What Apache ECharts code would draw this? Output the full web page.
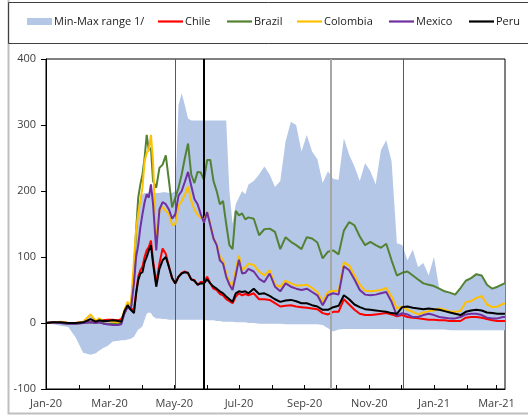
<!DOCTYPE html>
<html>
<head>
<meta charset="utf-8">
<script src="https://cdn.jsdelivr.net/npm/echarts@6/dist/echarts.min.js"></script>
<style>
  html, body { margin: 0; padding: 0; background: #ffffff; }
  #chart { width: 528px; height: 416px; }
</style>
</head>
<body>
<div id="chart"></div>
<script>
// Observation dates (shared by every series)
const dates = [
  '2020-01-01','2020-01-08','2020-01-15','2020-01-22','2020-01-29','2020-02-05','2020-02-12','2020-02-17','2020-02-20','2020-02-24','2020-02-28','2020-03-04','2020-03-09','2020-03-12',
  '2020-03-15','2020-03-18','2020-03-21','2020-03-24','2020-03-26','2020-03-28','2020-03-30','2020-04-01','2020-04-03','2020-04-05','2020-04-07','2020-04-09','2020-04-11','2020-04-14','2020-04-17','2020-04-20','2020-04-23','2020-04-26','2020-04-29','2020-05-02','2020-05-05','2020-05-08','2020-05-11','2020-05-14','2020-05-17','2020-05-20','2020-05-23','2020-05-26','2020-05-29','2020-06-01','2020-06-04','2020-06-07','2020-06-10','2020-06-13','2020-06-16','2020-06-19','2020-06-22','2020-06-25','2020-06-28','2020-07-01','2020-07-04','2020-07-07','2020-07-10',
  '2020-07-15','2020-07-20','2020-07-25','2020-07-30','2020-08-04','2020-08-09','2020-08-14','2020-08-19','2020-08-24','2020-08-29','2020-09-03','2020-09-08','2020-09-13','2020-09-18','2020-09-23','2020-09-28','2020-10-03','2020-10-08','2020-10-13','2020-10-18','2020-10-23','2020-10-28','2020-11-02','2020-11-07','2020-11-12','2020-11-17','2020-11-22','2020-11-27','2020-12-02','2020-12-07','2020-12-12','2020-12-17','2020-12-22','2020-12-27','2021-01-01','2021-01-06','2021-01-11','2021-01-16','2021-01-21','2021-01-26','2021-01-31','2021-02-05','2021-02-10','2021-02-15','2021-02-20','2021-02-25','2021-03-02','2021-03-07','2021-03-09'
];

// Min-Max range of the comparison group
const rangeLow = [
  -1,-2,-4,-6,-22,-45,-48,-46,-42,-38,-35,-28,-27,-26,
  -26,-25,-24,-21,-15,-10,-8,-5,5,14,16,15,10,7,7,6,6,5,5,5,5,5,5,5,5,5,5,5,5,4,4,4,3,3,2,2,2,2,1,1,1,1,0,
  0,-1,-1,-1,-1,-1,-2,-2,-2,-2,-2,-2,-2,-3,-8,-13,-10,-9,-9,-9,-9,-9,-9,-9,-9,-9,-9,-9,-10,-10,-10,-10,-10,-10,-10,-10,-10,-11,-11,-11,-11,-11,-11,-11,-11,-11,-11,-11,-11
];
const rangeHigh = [
  1,2,2,1,1,3,14,4,8,5,6,6,5,7,
  22,33,27,95,141,170,190,195,197,197,198,198,198,197,197,198,198,197,197,200,330,348,330,310,307,307,307,307,307,307,307,307,307,307,307,307,200,150,180,190,200,195,210,
  215,225,237,225,206,215,275,305,300,260,285,260,248,212,230,218,217,280,255,237,215,242,230,210,262,277,245,121,118,95,111,85,91,72,100,52,48,46,43,53,64,68,74,72,58,52,55,59,60
];

const chile = [
  0,1,1,0,0,1,2,2,3,4,5,5,4,6,
  15,25,22,20,45,70,80,85,100,110,115,125,95,60,90,113,105,85,68,60,70,76,78,75,66,65,58,62,62,70,60,52,50,44,42,36,33,30,40,45,42,44,42,
  45,36,36,35,30,25,26,27,25,24,23,22,21,15,13,17,17,36,28,20,14,12,12,13,14,15,13,10,12,9,8,7,6,5,5,4,4,3,3,3,8,9,9,8,6,4,3,3,3
];
const brazil = [
  0,1,0,-1,-1,0,1,0,1,0,-2,-1,-1,0,
  15,25,20,80,140,190,210,225,250,285,262,265,215,205,235,240,254,215,175,190,205,225,250,272,225,212,229,228,217,247,247,215,200,180,185,150,118,112,170,163,166,157,160,
  158,133,142,143,138,112,130,123,118,112,130,128,122,98,108,110,104,140,153,148,131,118,123,118,114,120,95,72,76,78,72,66,60,58,56,52,48,46,43,53,64,68,74,72,58,52,55,59,60
];
const colombia = [
  0,1,2,0,0,2,13,3,7,3,3,2,1,2,
  20,32,25,95,141,166,185,205,245,258,262,285,245,115,170,176,170,165,148,150,178,185,194,207,185,172,164,160,156,168,150,128,120,100,95,75,62,55,80,102,80,84,90,
  88,78,72,80,58,55,64,60,57,57,58,53,47,32,47,49,48,92,87,72,58,49,48,49,50,53,40,22,25,20,17,13,16,18,19,22,20,17,17,18,32,33,38,41,28,24,25,29,30
];
const mexico = [
  0,1,0,-1,-1,0,1,0,1,-1,-2,-3,-3,-2,
  15,25,20,60,100,118,145,165,183,195,190,210,180,110,172,183,180,172,158,165,193,200,214,229,208,188,180,165,152,168,148,128,118,95,90,70,58,50,72,96,75,76,82,
  78,67,62,75,55,48,60,55,52,50,52,47,42,27,42,45,43,86,80,66,50,43,42,43,45,47,32,11,15,13,9,9,12,14,12,9,8,7,7,9,13,14,14,12,8,7,7,9,9
];
const peru = [
  0,1,1,0,0,1,6,2,4,3,3,4,3,2,
  18,27,20,15,45,65,75,77,92,100,110,118,90,55,82,95,100,85,68,60,70,75,77,76,66,64,58,60,60,66,60,55,52,48,45,40,36,32,45,48,47,48,45,
  52,44,45,41,36,32,34,35,33,30,30,27,25,20,20,24,26,42,36,28,24,21,20,19,18,17,15,14,24,25,23,22,21,22,21,20,18,16,14,12,17,19,20,19,16,15,14,14,14
];

// Event markers (vertical rules)
const eventDates = ['2020-05-02', '2020-05-29', '2020-09-26', '2020-12-03'];

// Axis labels
const monthNames = ['Jan','Feb','Mar','Apr','May','Jun','Jul','Aug','Sep','Oct','Nov','Dec'];
const yTicks = { min: -100, max: 400, step: 100 };

// Legend entries
const legendNames = ['Min-Max range 1/', 'Chile', 'Brazil', 'Colombia', 'Mexico', 'Peru'];

const FONT = "'Open Sans', sans-serif";
const DAY = 24 * 3600 * 1000;

const pairs = arr => dates.map((d, i) => [d, arr[i]]);
const bandWidth = rangeHigh.map((v, i) => v - rangeLow[i]);

const eventStyles = [
  { color: '#595959', width: 1, type: 'solid' },
  { color: '#000000', width: 2, type: 'solid' },
  { color: '#a6a6a6', width: 2, type: 'solid' },
  { color: '#595959', width: 1, type: 'solid' }
];

// left edge of each legend icon
const legendLeft = [27, 158, 227, 297, 389, 469];
const LINE_ICON = 'path://M0,0H25V2.2H0Z';

function countryLine(name, values, color, z) {
  return {
    name: name,
    type: 'line',
    data: pairs(values),
    symbol: 'none',
    showSymbol: false,
    lineStyle: { width: 2, color: color },
    itemStyle: { color: color },
    z: z,
    silent: true
  };
}

const chart = echarts.init(document.getElementById('chart'), null, { renderer: 'canvas' });

const peruSeries = countryLine('Peru', peru, '#000000', 8);
peruSeries.markLine = {
  symbol: 'none',
  silent: true,
  animation: false,
  label: { show: false },
  data: eventDates.map((d, i) => ({ xAxis: d, lineStyle: eventStyles[i] }))
};

const legends = legendNames.map((name, i) => ({
  left: legendLeft[i],
  top: 16,
  padding: 0,
  itemWidth: 25,
  itemHeight: 7,
  selectedMode: false,
  symbolKeepAspect: true,
  textStyle: { fontSize: 11, color: '#1a1a1a', fontFamily: FONT, padding: [0, 0, 0, -3] },
  data: [{ name: name, icon: i === 0 ? 'rect' : LINE_ICON }]
}));

chart.setOption({
  animation: false,
  backgroundColor: '#ffffff',
  textStyle: { fontFamily: FONT },
  graphic: [
    {
      type: 'rect', silent: true, z: 0,
      shape: { x: 8.5, y: -5, width: 540, height: 418.5 },
      style: { fill: 'none', stroke: '#bfbfbf', lineWidth: 2 }
    },
    {
      type: 'rect', silent: true, z: 0,
      shape: { x: 8.5, y: 2.5, width: 540, height: 41 },
      style: { fill: 'none', stroke: '#404040', lineWidth: 1 }
    }
  ],
  legend: legends,
  grid: {
    left: 46, right: 23, top: 59, bottom: 27,
    show: true, borderColor: '#000000', borderWidth: 1,
    backgroundColor: 'transparent'
  },
  xAxis: {
    type: 'time',
    min: new Date(2020, 0, 1).getTime(),
    max: new Date(2021, 2, 9).getTime(),
    splitNumber: 14,
    minInterval: 28 * DAY,
    maxInterval: 31 * DAY,
    axisLine: { show: true, onZero: false, lineStyle: { color: '#000000', width: 1 } },
    axisTick: { show: true, inside: true, length: 4, lineStyle: { color: '#000000' } },
    axisLabel: {
      fontSize: 11, color: '#404040', fontFamily: FONT, margin: 9,
      hideOverlap: false,
      formatter: function (val) {
        const d = new Date(val);
        const m = d.getMonth();
        if (d.getDate() !== 1 || m % 2 !== 0) return '';
        return monthNames[m] + '-' + String(d.getFullYear()).slice(2);
      }
    },
    splitLine: { show: false }
  },
  yAxis: {
    type: 'value',
    min: yTicks.min, max: yTicks.max, interval: yTicks.step,
    axisLine: { show: true, lineStyle: { color: '#000000', width: 1 } },
    axisTick: { show: true, length: 5, lineStyle: { color: '#000000' } },
    axisLabel: { fontSize: 11, color: '#404040', fontFamily: FONT, margin: 10 },
    splitLine: { show: false }
  },
  series: [
    {
      name: 'range-base',
      type: 'line',
      stack: 'range',
      stackStrategy: 'all',
      data: pairs(rangeLow),
      symbol: 'none',
      lineStyle: { width: 0, opacity: 0 },
      silent: true,
      z: 1
    },
    {
      name: 'Min-Max range 1/',
      type: 'line',
      stack: 'range',
      stackStrategy: 'all',
      data: pairs(bandWidth),
      symbol: 'none',
      lineStyle: { width: 0, opacity: 0 },
      areaStyle: { color: '#b4c7e7', opacity: 1 },
      itemStyle: { color: '#b4c7e7' },
      silent: true,
      z: 1
    },
    countryLine('Chile', chile, '#ff0000', 3),
    countryLine('Brazil', brazil, '#548235', 4),
    countryLine('Colombia', colombia, '#ffc000', 5),
    countryLine('Mexico', mexico, '#7030a0', 6),
    peruSeries
  ]
});
</script>
</body>
</html>
